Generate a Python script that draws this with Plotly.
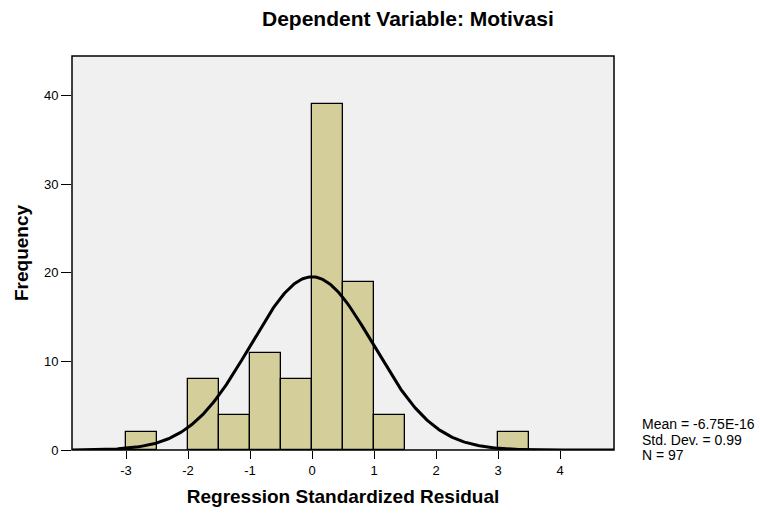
import numpy as np
import plotly.graph_objects as go

# Data
bin_left = [-3.0, -2.0, -1.5, -1.0, -0.5, 0.0, 0.5, 1.0, 3.0]
counts = [2, 8, 4, 11, 8, 39, 19, 4, 2]
bin_width = 0.5
mean_val = -6.75e-16
std_val = 0.99
n_val = 97
x_ticks = [-3, -2, -1, 0, 1, 2, 3, 4]
y_ticks = [0, 10, 20, 30, 40]
stats_lines = ["Mean = -6.75E-16", "Std. Dev. = 0.99", "N = 97"]

x_range = [-3.871, 4.871]
y_range = [0, 44.47]

centers = [b + bin_width / 2 for b in bin_left]

xs = np.linspace(x_range[0], x_range[1], 400)
ys = n_val * bin_width / (std_val * np.sqrt(2 * np.pi)) * np.exp(-0.5 * ((xs - mean_val) / std_val) ** 2)

fig = go.Figure()
fig.add_trace(go.Bar(
    x=centers, y=counts, width=bin_width,
    marker=dict(color="#d3ce9a", line=dict(color="black", width=1.3)),
    hoverinfo="x+y",
))
fig.add_trace(go.Scatter(
    x=xs, y=ys, mode="lines",
    line=dict(color="black", width=3),
    hoverinfo="skip",
))

W, H = 760, 517
PL, PR, PT, PB = 72, 614, 56, 450
pw, ph = PR - PL, PB - PT


def px(x):
    return (x - PL) / pw


def py(y):
    return (PB - y) / ph


annotations = [
    dict(text="<b>Dependent Variable: Motivasi</b>", x=px(408), y=py(18),
         xref="paper", yref="paper", showarrow=False, font=dict(size=21),
         xanchor="center", yanchor="middle"),
]
for i, line in enumerate(stats_lines):
    annotations.append(dict(
        text=line, x=px(640), y=py(424 + 15.5 * i), xref="paper", yref="paper",
        showarrow=False, align="left", xanchor="left", yanchor="middle",
        font=dict(size=14)))

fig.update_layout(
    width=W, height=H,
    margin=dict(l=PL, r=W - PR, t=PT, b=H - PB, autoexpand=False),
    paper_bgcolor="white",
    plot_bgcolor="#f0f0f0",
    showlegend=False,
    bargap=0,
    font=dict(family="Liberation Sans, Arial, sans-serif", color="black", size=13),
    annotations=annotations,
    shapes=[
        dict(type="rect", xref="paper", yref="paper", x0=0, x1=1, y0=0, y1=1,
             line=dict(color="black", width=1.5), layer="above"),
    ],
)
fig.update_xaxes(
    range=x_range, tickvals=x_ticks, ticktext=[str(t) for t in x_ticks],
    ticks="outside", ticklen=8, tickwidth=1.2, tickcolor="black",
    showgrid=False, zeroline=False, showline=False,
    title=dict(text="<b>Regression Standardized Residual</b>", font=dict(size=19), standoff=13),
)
fig.update_yaxes(
    range=y_range, tickvals=y_ticks, ticktext=[str(t) for t in y_ticks],
    ticks="outside", ticklen=10, tickwidth=1.2, tickcolor="black",
    showgrid=False, zeroline=False, showline=False,
    title=dict(text="<b>Frequency</b>", font=dict(size=19), standoff=10),
)

fig.write_html("out.html", config={"displayModeBar": False},
               post_script="document.body.style.margin='0';")
